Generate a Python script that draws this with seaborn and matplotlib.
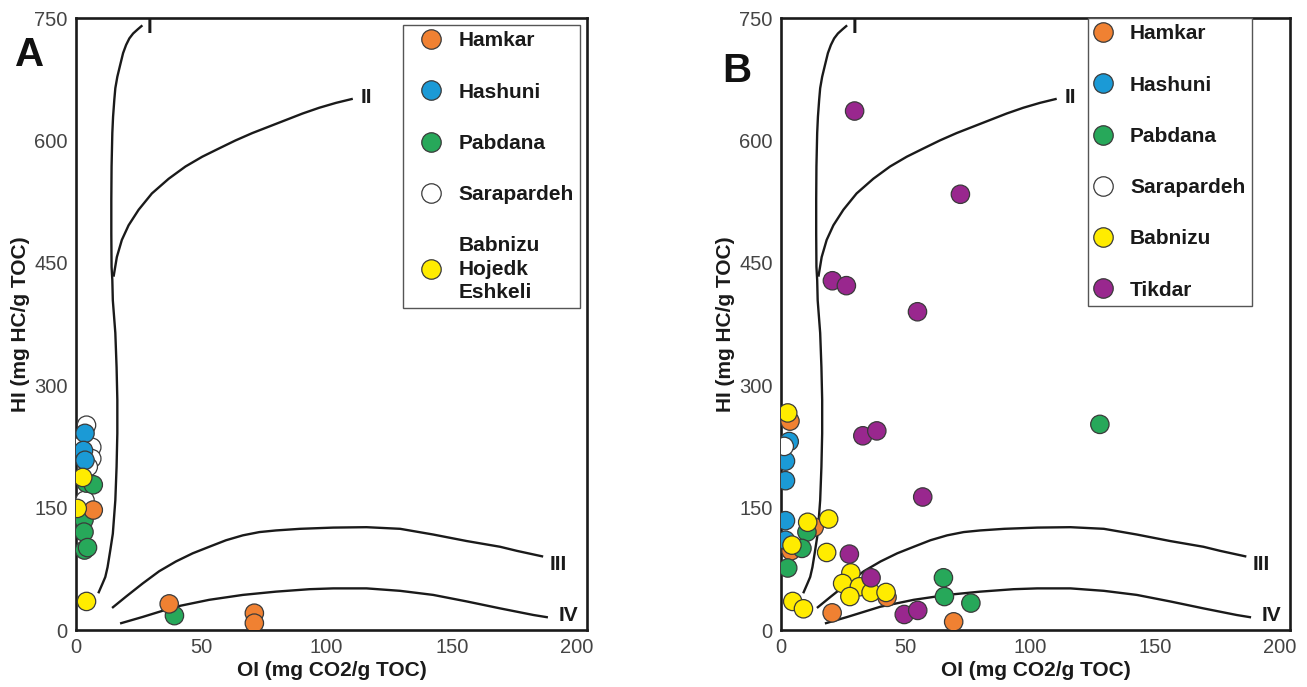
import matplotlib
matplotlib.use("Agg")
import matplotlib.pyplot as plt
from matplotlib.lines import Line2D
import pandas as pd
import seaborn as sns

# ---------------- Rock-Eval data: Oxygen Index (OI) vs Hydrogen Index (HI) ----------------
# Panel A
a_hamkar_oi = [37.2, 71.2, 71.2, 6.9]
a_hamkar_hi = [32, 20.6, 8.4, 147]
a_hashuni_oi = [3.6, 3.0, 3.6]
a_hashuni_hi = [241, 220, 208]
a_pabdana_oi = [39.3, 4.2, 6.9, 3.2, 3.2, 3.4, 4.6]
a_pabdana_hi = [17.6, 180, 178, 135, 120, 98, 101]
a_sarapardeh_oi = [4.2, 0.3, 6.3, 6.3, 4.9, 3.6]
a_sarapardeh_hi = [251, 224, 224, 210, 200, 159]
a_babnizu_oi = [2.7, 0.5, 4.2]
a_babnizu_hi = [187, 149, 35]

# Panel B
b_hamkar_oi = [3.6, 13.3, 4.0, 42.5, 20.5, 69.2]
b_hamkar_hi = [256, 126, 97, 40, 21, 10]
b_hashuni_oi = [3.3, 1.8, 1.8, 1.8, 1.8]
b_hashuni_hi = [231, 207, 183, 134, 110]
b_pabdana_oi = [10.4, 8.4, 2.7, 65.1, 65.5, 76.1, 127.8]
b_pabdana_hi = [120, 100, 76, 64, 41, 33, 252]
b_sarapardeh_oi = [1.3]
b_sarapardeh_hi = [225]
b_babnizu_oi = [2.7, 10.7, 19.1, 4.4, 18.3, 28.0, 24.7, 31.4, 36.1, 27.6, 42.1, 4.7, 9.0]
b_babnizu_hi = [266, 132, 136, 104, 95, 70, 57, 53, 46, 41, 46, 35, 26]
b_tikdar_oi = [29.5, 71.9, 20.6, 26.2, 54.7, 32.8, 38.4, 56.8, 27.4, 36.1, 49.4, 54.8]
b_tikdar_hi = [636, 534, 428, 422, 390, 238, 244, 163, 93, 64, 19, 24]

# Kerogen-type boundary curves (OI, HI)
curve_i_oi = [26.5, 24.6, 22.8, 21.3, 20.0, 18.8, 17.6, 16.5, 15.7, 15.3, 14.8, 14.5,
              14.2, 14.1, 14.1, 14.2, 14.5, 14.7, 15.7, 16.2, 16.5, 16.5, 16.2, 15.7,
              14.7, 13.7, 12.6, 11.7, 10.6, 8.9]
curve_i_hi = [741, 736, 731, 725, 717, 707, 692, 678, 664, 650, 629, 609,
              568, 527, 486, 445, 429, 404, 364, 322, 282, 241, 200, 159,
              118, 98, 77, 65, 57, 45]
curve_ii_oi = [15.0, 16.3, 18.3, 21.0, 25.0, 30.3, 37.0, 43.7, 50.4, 57.0, 63.7, 70.4,
               77.1, 83.8, 90.5, 97.1, 103.8, 110.5]
curve_ii_hi = [433, 457, 478, 496, 515, 535, 553, 568, 580, 590, 600, 609,
               617, 625, 633, 640, 646, 651]
curve_iii_oi = [14.4, 20.0, 26.6, 33.2, 39.9, 46.6, 53.2, 59.9, 66.6, 73.2, 79.8, 89.5,
                102.7, 116.0, 129.4, 142.6, 156.0, 169.3, 176.0, 186.5]
curve_iii_hi = [27, 41, 57, 72, 84, 94, 102, 110, 116, 120, 122, 124,
                125.5, 126, 124, 117, 109, 102, 97, 90]
curve_iv_oi = [17.6, 26.6, 39.9, 53.2, 66.6, 79.8, 93.2, 102.7, 116.0, 129.4, 142.6,
               156.0, 169.3, 182.6, 188.4]
curve_iv_hi = [8, 16, 28.6, 37, 43, 47, 50, 51, 51, 48, 43, 35, 26.5, 18.4, 15.5]
curve_names = ["I", "II", "III", "IV"]
curve_label_oi = [29.5, 115.8, 192.4, 196.4]
curve_label_hi = [738, 653, 80, 18]

x_ticks = [0, 50, 100, 150, 200]
y_ticks = [0, 150, 300, 450, 600, 750]

colors = {
    "Hamkar": "#f08132",
    "Hashuni": "#1b9ad6",
    "Pabdana": "#27a85a",
    "Sarapardeh": "#ffffff",
    "Babnizu": "#ffec00",
    "Tikdar": "#99278e",
}
EDGE = "#3a3a3a"

sns.set_style("white")
plt.rcParams["font.family"] = ["Liberation Sans", "DejaVu Sans"]

W, H = 1307, 687
fig = plt.figure(figsize=(W / 100, H / 100), dpi=100)
ax_a = fig.add_axes([76 / W, 57 / H, 511 / W, 612 / H])
ax_b = fig.add_axes([781 / W, 57 / H, 509 / W, 612 / H])


def frame(name, oi, hi):
    return pd.DataFrame({"OI": oi, "HI": hi, "Formation": name})


def draw_panel(ax, frames, legend_labels, legend_keys, anchor, handle_len,
               text_pad, letter, letter_xy):
    df = pd.concat(frames, ignore_index=True)

    # boundary curves
    for cx, cy in [(curve_i_oi, curve_i_hi), (curve_ii_oi, curve_ii_hi),
                   (curve_iii_oi, curve_iii_hi), (curve_iv_oi, curve_iv_hi)]:
        ax.plot(cx, cy, color="#1a1a1a", lw=1.7, solid_capstyle="butt",
                solid_joinstyle="round", zorder=2)
    for name, lx, ly in zip(curve_names, curve_label_oi, curve_label_hi):
        ax.text(lx, ly, name, ha="center", va="center", fontsize=15,
                fontweight="bold", color="#1a1a1a", zorder=2)

    sns.scatterplot(data=df, x="OI", y="HI", hue="Formation", palette=colors,
                    s=175, edgecolor=EDGE, linewidth=0.9, legend=False,
                    ax=ax, zorder=3)

    ax.set_xlim(0, 204)
    ax.set_ylim(0, 750)
    ax.set_xticks(x_ticks)
    ax.set_yticks(y_ticks)
    ax.tick_params(direction="in", length=11, width=1, color="#d4d4d4",
                   labelsize=14.5, labelcolor="#444444", pad=6)
    for sp in ax.spines.values():
        sp.set_linewidth(1.9)
        sp.set_color("#1a1a1a")
    ax.grid(False)

    ax.set_xlabel("OI (mg CO2/g TOC)", fontsize=15, fontweight="bold", color="#1a1a1a")
    ax.set_ylabel("HI (mg HC/g TOC)", fontsize=15, fontweight="bold", color="#1a1a1a")
    ax.xaxis.set_label_coords(0.5, -0.05)
    ax.yaxis.set_label_coords(-0.09, 0.5)

    handles = [Line2D([0], [0], marker="o", ls="", markersize=14,
                      markerfacecolor=colors[k], markeredgecolor=EDGE,
                      markeredgewidth=0.9) for k in legend_keys]
    leg = ax.legend(handles, legend_labels, loc="upper left", bbox_to_anchor=anchor,
                    borderaxespad=0, frameon=True, fancybox=False, framealpha=1,
                    edgecolor="#555555", borderpad=0.3, handlelength=handle_len,
                    handletextpad=text_pad, labelspacing=1.55,
                    prop={"size": 15, "weight": "bold"})
    leg.get_frame().set_linewidth(1.0)
    for t in leg.get_texts():
        t.set_color("#1a1a1a")
        t.set_linespacing(1.28)

    fig.text(letter_xy[0] / W, 1 - letter_xy[1] / H, letter, fontsize=29,
             fontweight="bold", ha="center", va="center", color="#111111")


draw_panel(
    ax_a,
    [frame("Sarapardeh", a_sarapardeh_oi, a_sarapardeh_hi),
     frame("Pabdana", a_pabdana_oi, a_pabdana_hi),
     frame("Hamkar", a_hamkar_oi, a_hamkar_hi),
     frame("Hashuni", a_hashuni_oi, a_hashuni_hi),
     frame("Babnizu", a_babnizu_oi, a_babnizu_hi)],
    ["Hamkar", "Hashuni", "Pabdana", "Sarapardeh", "Babnizu\nHojedk\nEshkeli"],
    ["Hamkar", "Hashuni", "Pabdana", "Sarapardeh", "Babnizu"],
    (0.639, 0.9886), 2.15, 0.22, "A", (30, 55),
)

draw_panel(
    ax_b,
    [frame("Hamkar", b_hamkar_oi, b_hamkar_hi),
     frame("Pabdana", b_pabdana_oi, b_pabdana_hi),
     frame("Hashuni", b_hashuni_oi, b_hashuni_hi),
     frame("Sarapardeh", b_sarapardeh_oi, b_sarapardeh_hi),
     frame("Babnizu", b_babnizu_oi, b_babnizu_hi),
     frame("Tikdar", b_tikdar_oi, b_tikdar_hi)],
    ["Hamkar", "Hashuni", "Pabdana", "Sarapardeh", "Babnizu", "Tikdar"],
    ["Hamkar", "Hashuni", "Pabdana", "Sarapardeh", "Babnizu", "Tikdar"],
    (0.603, 1.0), 0.82, 0.9, "B", (737, 71),
)

fig.savefig("out.png", dpi=100, facecolor="white")
